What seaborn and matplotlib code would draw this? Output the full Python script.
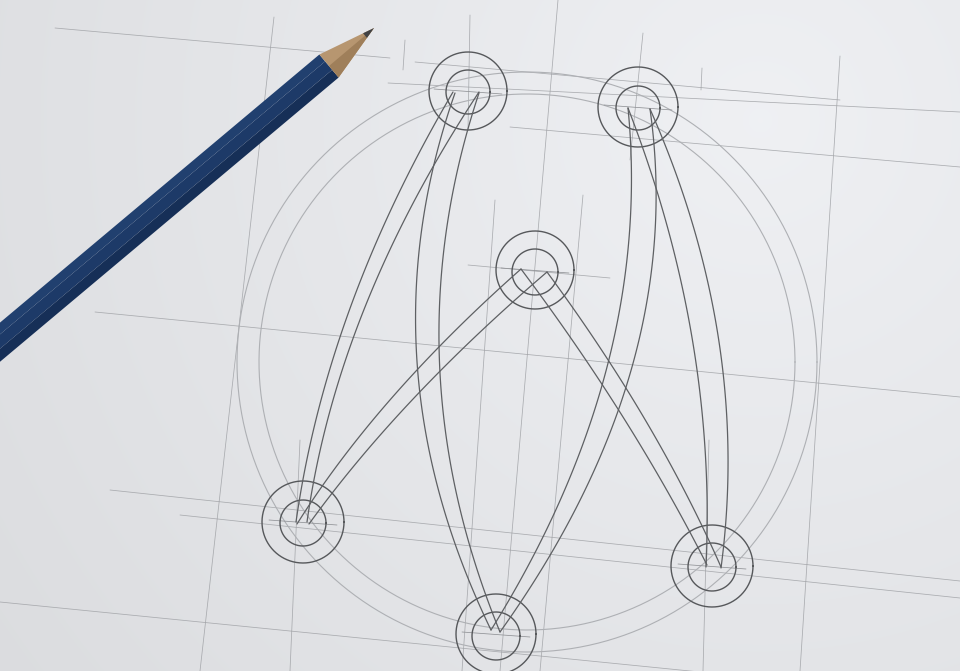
import numpy as np
import matplotlib
matplotlib.use("Agg")
import matplotlib.pyplot as plt
import seaborn as sns

# ---------------- data (pixel space of the sketch) ----------------
W, H = 960, 671

node_names = ["top_left", "top_right", "center", "left", "right", "bottom"]
node_x = [468, 638, 535, 303, 712, 496]
node_y = [91, 107, 270, 522, 566, 634]
node_r_outer = [39, 40, 39, 41, 41, 40]
node_r_inner = [22, 22, 23, 23, 24, 24]
node_inner_dy = [1, 1, 2, 1, 1, 2]

ring_cx = [527, 527]
ring_cy = [362, 362]
ring_r = [290, 268]

# band strokes (start, end, horizontal bulge of the midpoint)
band_x0 = [453, 479, 455, 479, 628, 650, 628, 650, 521, 547, 521, 547]
band_y0 = [92, 92, 93, 93, 108, 109, 108, 109, 269, 272, 269, 272]
band_x1 = [296, 307, 491, 500, 491, 500, 706, 721, 297, 309, 707, 721]
band_y1 = [522, 522, 630, 632, 630, 632, 567, 568, 524, 524, 565, 567]
band_bulge = [-24, -28, -56, -50, 47, 56, 25, 33, -16, -14, 9, 11]

# faint construction lines
guide_x0 = [55, 388, 415, 510, 95, 110, 180, 0, 274, 470, 558, 643, 840, 495, 583, 300, 709, 405, 702, 468]
guide_y0 = [28, 83, 62, 127, 312, 490, 515, 602, 17, 15, 0, 33, 56, 200, 195, 440, 440, 40, 68, 265]
guide_x1 = [390, 960, 840, 960, 960, 960, 960, 790, 200, 468, 500, 630, 800, 462, 540, 290, 703, 403, 701, 610]
guide_y1 = [58, 112, 100, 167, 397, 581, 598, 681, 671, 130, 671, 160, 671, 671, 671, 671, 671, 70, 90, 278]

# pencil
pencil_tip = (374, 28)
pencil_top_center = (329, 66)
pencil_dir = (-0.766, 0.643)
pencil_half_width = 15

# ---------------- drawing ----------------
sns.set_theme(style="white")
fig = plt.figure(figsize=(9.6, 6.71), dpi=100)
ax = fig.add_axes([0, 0, 1, 1])
ax.set_xlim(0, W)
ax.set_ylim(H, 0)
ax.axis("off")

# paper background
yy, xx = np.mgrid[0:H, 0:W]
d = np.sqrt((xx - 760.0) ** 2 + (yy - 120.0) ** 2) / 900.0
v = 0.945 - 0.075 * d
bg = np.dstack([v * 0.992, v * 0.997, v * 1.010]).clip(0, 1)
ax.imshow(bg, extent=[0, W, H, 0], zorder=0, aspect="auto")


def draw(xs, ys, color, lw, z=2, alpha=1.0):
    sns.lineplot(x=xs, y=ys, sort=False, estimator=None, color=color,
                 linewidth=lw, ax=ax, zorder=z, alpha=alpha, legend=False)


# guides
for x0, y0, x1, y1 in zip(guide_x0, guide_y0, guide_x1, guide_y1):
    draw(np.array([x0, x1]), np.array([y0, y1]), "#9fa1a5", 0.55, z=1, alpha=0.85)

# big rings
th = np.linspace(0, 2 * np.pi, 400)
for cx, cy, r in zip(ring_cx, ring_cy, ring_r):
    draw(cx + r * np.cos(th), cy + r * np.sin(th), "#aeb0b4", 0.8, z=2)

# node rings
for cx, cy, ro, ri, idy in zip(node_x, node_y, node_r_outer, node_r_inner, node_inner_dy):
    draw(cx + ro * np.cos(th), cy + ro * np.sin(th), "#56585b", 1.0, z=3)
    draw(cx + ri * np.cos(th), cy + idy + ri * np.sin(th), "#56585b", 1.0, z=3)
    draw(np.array([cx - 34, cx + 34]), np.array([cy - 2, cy + 3]), "#909296", 0.55, z=2)

# band strokes (quadratic curves)
t = np.linspace(0, 1, 120)
for x0, y0, x1, y1, b in zip(band_x0, band_y0, band_x1, band_y1, band_bulge):
    mx, my = (x0 + x1) / 2 + 2 * b, (y0 + y1) / 2
    xs = (1 - t) ** 2 * x0 + 2 * t * (1 - t) * mx + t ** 2 * x1
    ys = (1 - t) ** 2 * y0 + 2 * t * (1 - t) * my + t ** 2 * y1
    draw(xs, ys, "#5e6063", 0.9, z=4)

# pencil
dx, dy = pencil_dir
px, py = 0.643, 0.766
tcx, tcy = pencil_top_center
far = 520
stripes = [(-pencil_half_width, -6, "#21406f"),
           (-6, 5, "#1d3a68"),
           (5, pencil_half_width, "#162f57")]
for a, b2, col in stripes:
    poly_x = [tcx + a * px, tcx + b2 * px, tcx + b2 * px + far * dx, tcx + a * px + far * dx]
    poly_y = [tcy + a * py, tcy + b2 * py, tcy + b2 * py + far * dy, tcy + a * py + far * dy]
    ax.fill(poly_x, poly_y, color=col, zorder=10, lw=0)
# wood cone
c1 = (tcx - pencil_half_width * px, tcy - pencil_half_width * py)
c2 = (tcx + pencil_half_width * px, tcy + pencil_half_width * py)
ax.fill([c1[0], c2[0], pencil_tip[0]], [c1[1], c2[1], pencil_tip[1]],
        color="#b79670", zorder=11, lw=0)
ax.fill([tcx, c2[0], pencil_tip[0]], [tcy, c2[1], pencil_tip[1]],
        color="#9f7f5a", zorder=11, lw=0)
# graphite
f = 0.8
g1 = (c1[0] + f * (pencil_tip[0] - c1[0]), c1[1] + f * (pencil_tip[1] - c1[1]))
g2 = (c2[0] + f * (pencil_tip[0] - c2[0]), c2[1] + f * (pencil_tip[1] - c2[1]))
ax.fill([g1[0], g2[0], pencil_tip[0]], [g1[1], g2[1], pencil_tip[1]],
        color="#424244", zorder=12, lw=0)

fig.savefig("out.png", dpi=100)
